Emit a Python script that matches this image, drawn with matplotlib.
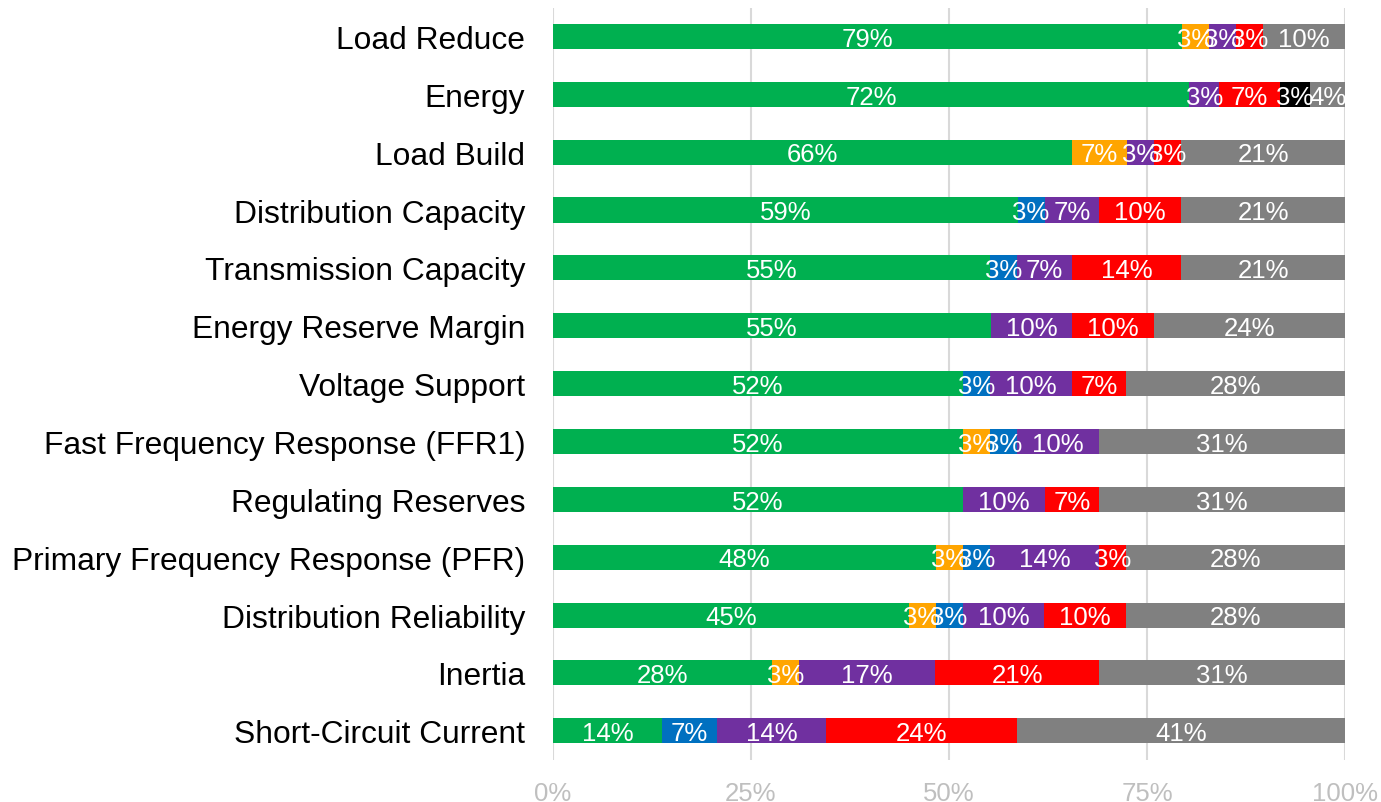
import matplotlib.pyplot as plt
import numpy as np

plt.rcParams["font.family"] = ["Liberation Sans", "DejaVu Sans"]

categories = [
    "Load Reduce",
    "Energy",
    "Load Build",
    "Distribution Capacity",
    "Transmission Capacity",
    "Energy Reserve Margin",
    "Voltage Support",
    "Fast Frequency Response (FFR1)",
    "Regulating Reserves",
    "Primary Frequency Response (PFR)",
    "Distribution Reliability",
    "Inertia",
    "Short-Circuit Current",
]

# share of responses per category (percent), one list per segment colour
green = [79.3, 72.4, 65.5, 58.6, 55.2, 55.2, 51.7, 51.7, 51.7, 48.3, 44.8, 27.6, 13.8]
orange = [3.4, 0, 6.9, 0, 0, 0, 0, 3.4, 0, 3.4, 3.4, 3.4, 0]
blue = [0, 0, 0, 3.4, 3.4, 0, 3.4, 3.4, 0, 3.4, 3.4, 0, 6.9]
purple = [3.4, 3.4, 3.4, 6.9, 6.9, 10.3, 10.3, 10.3, 10.3, 13.8, 10.3, 17.2, 13.8]
red = [3.4, 6.9, 3.4, 10.3, 13.8, 10.3, 6.9, 0, 6.9, 3.4, 10.3, 20.7, 24.1]
black = [0, 3.4, 0, 0, 0, 0, 0, 0, 0, 0, 0, 0, 0]
gray = [10.3, 4.0, 20.7, 20.7, 20.7, 24.1, 27.6, 31.0, 31.0, 27.6, 27.6, 31.0, 41.4]

series = [
    (green, "#00B050"),
    (orange, "#FFA500"),
    (blue, "#0070C0"),
    (purple, "#7030A0"),
    (red, "#FF0000"),
    (black, "#000000"),
    (gray, "#808080"),
]

x_ticks = [0, 0.25, 0.5, 0.75, 1.0]
x_tick_labels = ["0%", "25%", "50%", "75%", "100%"]

fig = plt.figure(figsize=(13.81, 8.03), dpi=100)
ax = fig.add_axes([0.4004, 0.0527, 0.5736, 0.9367])

values = np.array([s[0] for s in series], dtype=float)
totals = values.sum(axis=0)
y = np.arange(len(categories))
left = np.zeros(len(categories))

labels = []
for (vals, color), row in zip(series, values):
    frac = row / totals  # 100% stacked
    ax.barh(y, frac, left=left, height=0.433, color=color, zorder=2)
    for yi, (l, w, v) in enumerate(zip(left, frac, row)):
        if v > 0:
            labels.append((l + w / 2, yi, f"{v:.0f}%"))
    left += frac

for xc, yc, txt in labels:
    ax.text(xc, yc + 0.04, txt, ha="center", va="center", color="white",
            fontsize=18.5, zorder=3)

ax.set_xlim(0, 1)
ax.set_ylim(len(categories) - 0.5, -0.5)
ax.set_yticks(y)
ax.set_yticklabels(categories, fontsize=22.9)
ax.set_xticks(x_ticks)
ax.set_xticklabels(x_tick_labels, fontsize=18.5, color="#BFBFBF")
ax.tick_params(axis="both", length=0)
ax.tick_params(axis="y", pad=20)
ax.tick_params(axis="x", pad=15)
ax.grid(axis="x", color="#D9D9D9", linewidth=1.5, zorder=0)
ax.set_axisbelow(True)
for spine in ax.spines.values():
    spine.set_visible(False)

fig.savefig("out.png", dpi=100)
